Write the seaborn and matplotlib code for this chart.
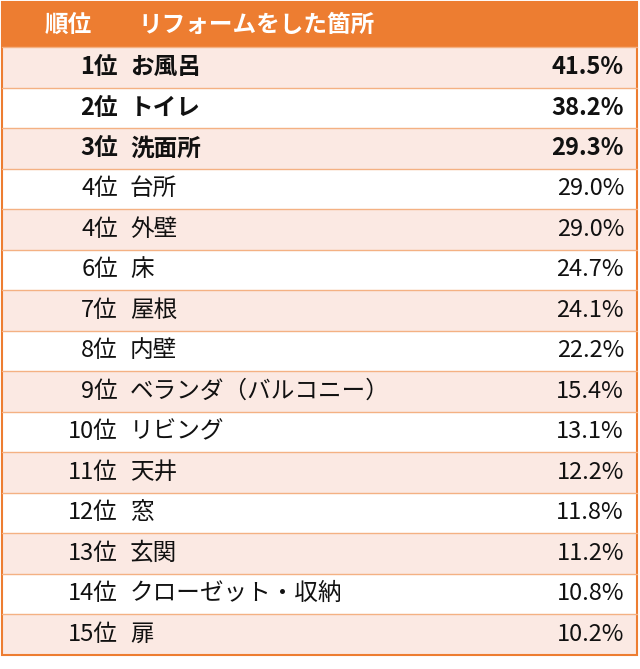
import matplotlib
matplotlib.use("Agg")
import matplotlib.pyplot as plt
import seaborn as sns

sns.set_theme(style="white")
plt.rcParams["font.family"] = "Noto Sans CJK JP"

ranks = ["1位","2位","3位","4位","4位","6位","7位","8位","9位","10位","11位","12位","13位","14位","15位"]
places = ["お風呂","トイレ","洗面所","台所","外壁","床","屋根","内壁","ベランダ（バルコニー）","リビング","天井","窓","玄関","クローゼット・収納","扉"]
values = [41.5,38.2,29.3,29.0,29.0,24.7,24.1,22.2,15.4,13.1,12.2,11.8,11.2,10.8,10.2]
headers = ["順位","リフォームをした箇所"]

W, H = 640, 669
fig = plt.figure(figsize=(W/100, H/100), dpi=100)
ax = fig.add_axes([0, 0, 1, 1])
ax.set_xlim(0, W); ax.set_ylim(H, 0); ax.axis("off")

orange = "#ED7D31"; band = "#FBE9E3"
top, hh, rh = 2, 45, 40.5
left, right = 2, 637
fs = 17
ax.add_patch(plt.Rectangle((left, top), right-left, hh, color=orange, lw=0))
ax.text(68, top+hh/2, headers[0], color="white", fontsize=fs, fontweight="bold", ha="center", va="center")
ax.text(138, top+hh/2, headers[1], color="white", fontsize=fs, fontweight="bold", ha="left", va="center")
for i, (r, p, v) in enumerate(zip(ranks, places, values)):
    y0 = top + hh + i*rh
    ax.add_patch(plt.Rectangle((left, y0), right-left, rh, facecolor=band if i % 2 == 0 else "white", lw=0))
    ax.plot([left, right], [y0, y0], color="#F4B183", lw=1)
    fw = "bold" if i < 3 else "normal"
    yc = y0 + rh/2
    ax.text(118, yc, r, fontsize=fs, fontweight=fw, ha="right", va="center", color="#111")
    ax.text(130, yc, p, fontsize=fs, fontweight=fw, ha="left", va="center", color="#111")
    ax.text(624, yc, f"{v:.1f}%", fontsize=fs, fontweight=fw, ha="right", va="center", color="#111")
bottom = top + hh + len(values)*rh
ax.add_patch(plt.Rectangle((left, top), right-left, bottom-top, fill=False, edgecolor=orange, lw=1.5))
fig.savefig("out.png", dpi=100)
